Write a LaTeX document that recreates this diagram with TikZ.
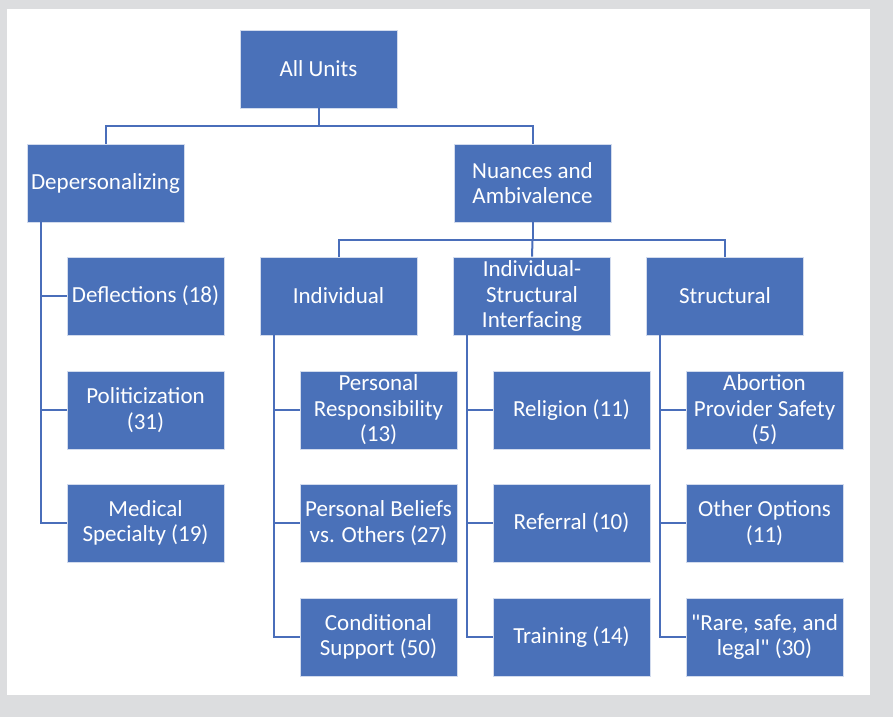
\documentclass[tikz,border=0pt]{standalone}
\usepackage{fontspec}
\setmainfont{Carlito}[Ligatures=TeXOff]
\definecolor{boxblue}{HTML}{4A71B9}
\definecolor{connblue}{HTML}{4A6EBA}
\definecolor{bggray}{HTML}{DCDDDF}
\begin{document}
\begin{tikzpicture}[x=1pt,y=-1pt,
  box/.style={fill=boxblue, draw=white!75!boxblue, line width=0.6pt,
    minimum width=157pt, minimum height=78pt, inner sep=0pt,
    text=white, align=center, font=\fontsize{23}{25.5}\selectfont},
  conn/.style={draw=connblue, line width=2pt}]
\fill[bggray] (0,0) rectangle (893,717);
\useasboundingbox (0,0) rectangle (893,717);
\fill[white] (7,9) rectangle (870,695);
% level 0
\node[box] (all) at (318.5,69) {All Units};
% level 1
\node[box] (dep) at (105.5,183) {Depersonalizing};
\node[box] (nua) at (532.5,183) {Nuances and\\Ambivalence};
% level 2
\node[box] (ind) at (338.5,296) {Individual};
\node[box] (int) at (532,296) {Individual-\\Structural\\Interfacing};
\node[box] (str) at (725,296) {Structural};
% depersonalizing children
\node[box] (d1) at (145.5,296) {Deflections (18)};
\node[box] (d2) at (145.5,410) {Politicization\\(31)};
\node[box] (d3) at (145.5,523) {Medical\\Specialty (19)};
% individual children
\node[box] (i1) at (378.5,410) {Personal\\Responsibility\\(13)};
\node[box] (i2) at (378.5,523) {Personal Beliefs\\vs. Others (27)};
\node[box] (i3) at (378.5,637) {Conditional\\Support (50)};
% interfacing children
\node[box] (n1) at (571.5,410) {Religion (11)};
\node[box] (n2) at (571.5,523) {Referral (10)};
\node[box] (n3) at (571.5,637) {Training (14)};
% structural children
\node[box] (s1) at (764.5,410) {Abortion\\Provider Safety\\(5)};
\node[box] (s2) at (764.5,523) {Other Options\\(11)};
\node[box] (s3) at (764.5,637) {"Rare, safe, and\\legal" (30)};
% connectors
\coordinate (b0) at (318.5,126);
\draw[conn] (all.south) -- (b0);
\draw[conn] (dep.north) |- (b0) -| (nua.north);
\coordinate (b1) at (532.5,240);
\draw[conn] (nua.south) -- (b1);
\draw[conn] (ind.north) |- (b1) -| (str.north);
\draw[conn] (b1) -- (int.north);
% depersonalizing
\coordinate (dx) at ([xshift=14pt]dep.south west);
\draw[conn] (dx) |- (d3.west);
\draw[conn] (d1.west) -- (d1.west -| dx);
\draw[conn] (d2.west) -- (d2.west -| dx);
% individual
\coordinate (ix) at ([xshift=14pt]ind.south west);
\draw[conn] (ix) |- (i3.west);
\draw[conn] (i1.west) -- (i1.west -| ix);
\draw[conn] (i2.west) -- (i2.west -| ix);
% interfacing
\coordinate (nx) at ([xshift=14pt]int.south west);
\draw[conn] (nx) |- (n3.west);
\draw[conn] (n1.west) -- (n1.west -| nx);
\draw[conn] (n2.west) -- (n2.west -| nx);
% structural
\coordinate (sx) at ([xshift=14pt]str.south west);
\draw[conn] (sx) |- (s3.west);
\draw[conn] (s1.west) -- (s1.west -| sx);
\draw[conn] (s2.west) -- (s2.west -| sx);
\end{tikzpicture}
\end{document}
